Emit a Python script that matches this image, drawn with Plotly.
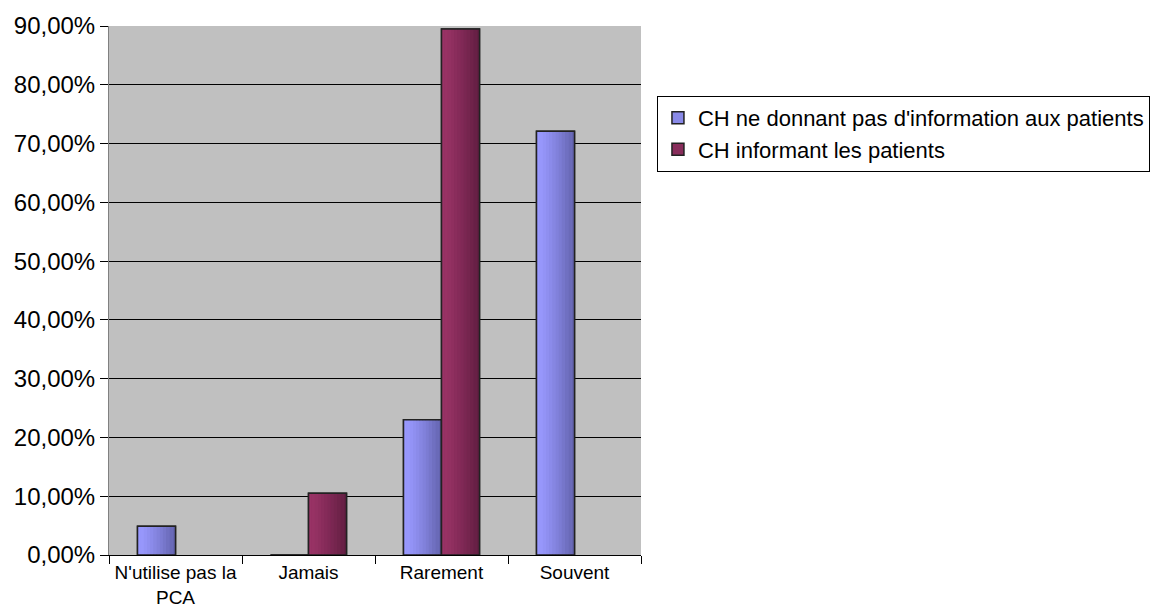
import plotly.graph_objects as go

# Survey results: share of hospitals (CH) per answer, by whether they inform patients
categories = ["N'utilise pas la<br>PCA", "Jamais", "Rarement", "Souvent"]
series_names = ["CH ne donnant pas d'information aux patients", "CH informant les patients"]
no_info = [0.049, 0.0, 0.23, 0.721]
informing = [None, 0.105, 0.895, None]
y_ticks = [0, 0.1, 0.2, 0.3, 0.4, 0.5, 0.6, 0.7, 0.8, 0.9]

FONT = "Liberation Sans, Arial, sans-serif"
GAP = 1.5                      # gap width relative to one bar
BAR_W = 1.0 / (2 + GAP)        # width of a single bar in category units
N_STRIPS = 12                  # vertical strips used to shade each bar left->right


def mix(c1, c2, t):
    return "rgb({},{},{})".format(*[round(a + (b - a) * t) for a, b in zip(c1, c2)])


series = [
    (series_names[0], no_info, (153, 153, 255), (100, 100, 175), -BAR_W),
    (series_names[1], informing, (153, 51, 102), (98, 30, 66), 0.0),
]

fig = go.Figure()

for name, vals, c_left, c_right, off in series:
    # base bar carrying the legend entry
    fig.add_trace(go.Bar(
        x=categories, y=vals, name=name, offset=off, width=BAR_W,
        marker=dict(color=mix(c_left, c_right, 0.3), line=dict(color="#222", width=1.5)),
        hoverinfo="x+y+name",
    ))
    # horizontal shading
    sw = BAR_W / N_STRIPS
    for i in range(N_STRIPS):
        t = i / (N_STRIPS - 1)
        fig.add_trace(go.Bar(
            x=categories, y=vals, offset=off + i * sw, width=sw * 1.05,
            marker=dict(color=mix(c_left, c_right, t ** 1.3), line=dict(width=0)),
            showlegend=False, hoverinfo="skip",
        ))
    # outline on top
    fig.add_trace(go.Bar(
        x=categories, y=vals, offset=off, width=BAR_W,
        marker=dict(color="rgba(0,0,0,0)", line=dict(color="#222", width=1.5)),
        showlegend=False, hoverinfo="skip",
    ))

fig.update_layout(
    width=1151, height=610,
    margin=dict(l=109, r=510, t=26, b=55, autoexpand=False),
    paper_bgcolor="white",
    plot_bgcolor="#C0C0C0",
    barmode="overlay",
    separators=", ",
    font=dict(family=FONT, color="black"),
    showlegend=True,
    legend=dict(
        x=1.030, y=0.868, xanchor="left", yanchor="top",
        bgcolor="white", bordercolor="black", borderwidth=1,
        font=dict(size=22, family=FONT, color="black"),
        itemwidth=30, tracegroupgap=0,
    ),
    xaxis=dict(
        type="category",
        showgrid=False,
        showline=True, linecolor="black", linewidth=1,
        ticks="outside", tickson="boundaries", ticklen=8, tickcolor="black",
        tickangle=0, automargin=False,
        tickfont=dict(size=19, family=FONT, color="black"),
        range=[-0.5, 3.5],
    ),
    yaxis=dict(
        range=[0, 0.9],
        tickvals=y_ticks, tickformat=".2%",
        showgrid=True, gridcolor="black", gridwidth=1,
        showline=True, linecolor="#808080", linewidth=1,
        ticks="outside", ticklen=8, tickcolor="black", automargin=False,
        tickfont=dict(size=24, family=FONT, color="black"),
        zeroline=False,
    ),
)

fig.write_html("out.html")
